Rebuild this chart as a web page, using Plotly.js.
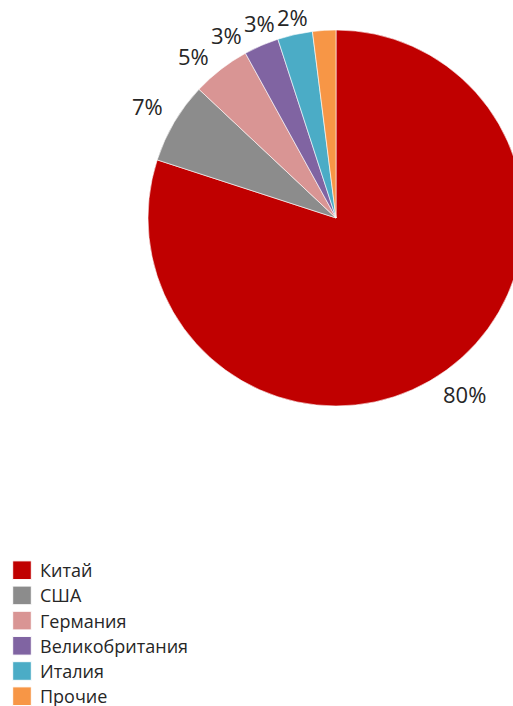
<!DOCTYPE html>
<html>
<head>
<meta charset="utf-8">
<script src="https://cdn.plot.ly/plotly-3.0.1.min.js"></script>
<style>
html,body{margin:0;padding:0;overflow:hidden;background:#fff;}
#chart{width:560px;height:706px;}
</style>
</head>
<body>
<div id="chart"></div>
<script>
// ---- data ----
var countries = ["Китай", "США", "Германия", "Великобритания", "Италия", "Прочие"];
var shares = [80, 7, 5, 3, 3, 2];
var colors = ["#C00000", "#8C8C8C", "#D99594", "#8064A2", "#4BACC6", "#F79646"];

// ---- geometry / style ----
var W = 560, H = 706;
var PIE_CX = 336, PIE_CY = 218, PIE_R = 188;
var LABEL_FONT = 22, LABEL_FAMILY = "Open Sans";
var LABEL_GAP = 4, LABEL_PADX = 11.7, LABEL_HALF_H = 8;
var MIN_CENTER_Y = 17, COLL_PAD = 2, COLL_H = 26;

var trace = {
  type: "pie",
  labels: countries,
  values: shares,
  sort: false,
  direction: "clockwise",
  rotation: 0,
  marker: {colors: colors, line: {color: "#ffffff", width: 0.6}},
  textinfo: "none",
  hoverinfo: "label+percent",
  domain: {x: [(PIE_CX - PIE_R) / W, (PIE_CX + PIE_R) / W],
           y: [(H - PIE_CY - PIE_R) / H, (H - PIE_CY + PIE_R) / H]}
};

// ---- outside labels placed from slice angles, with simple collision avoidance ----
var ctx = document.createElement("canvas").getContext("2d");
ctx.font = LABEL_FONT + "px '" + LABEL_FAMILY + "'";
var total = shares.reduce(function (a, b) { return a + b; }, 0);
var texts = shares.map(function (v) { return v + "%"; });
var mids = [], cum = 0;
shares.forEach(function (v) { mids.push((cum + v / 2) / total * 360); cum += v; });

function place(i, theta) {
  var w = ctx.measureText(texts[i]).width;
  var r = theta * Math.PI / 180, s = Math.sin(r), c = Math.cos(r);
  var d = PIE_R + LABEL_GAP + Math.abs(s) * (w / 2 + LABEL_PADX) + Math.abs(c) * LABEL_HALF_H;
  var x = PIE_CX + s * d, y = PIE_CY - c * d;
  var cw = w + COLL_PAD;
  return {x: x, y: y, x0: x - cw / 2, x1: x + cw / 2, y0: y - COLL_H / 2, y1: y + COLL_H / 2};
}
function overlaps(a, b) {
  return a.x0 < b.x1 && b.x0 < a.x1 && a.y0 < b.y1 && b.y0 < a.y1;
}
var placed = new Array(shares.length);
for (var i = shares.length - 1; i >= 0; i--) {
  var th = mids[i], box = place(i, th), guard = 0;
  while (guard++ < 400) {
    var bad = box.y < MIN_CENTER_Y;
    for (var j = i + 1; j < shares.length && !bad; j++) if (overlaps(box, placed[j])) bad = true;
    if (!bad) break;
    th -= 0.25; box = place(i, th);
  }
  placed[i] = box;
}
var annotations = placed.map(function (b, i) {
  return {
    xref: "paper", yref: "paper", x: b.x / W, y: (H - b.y) / H,
    xanchor: "center", yanchor: "middle", showarrow: false,
    text: texts[i],
    font: {family: LABEL_FAMILY + ", sans-serif", size: LABEL_FONT, color: "#262626"}
  };
});

var layout = {
  width: W,
  height: H,
  margin: {l: 0, r: 0, t: 0, b: 0, autoexpand: false},
  paper_bgcolor: "#ffffff",
  showlegend: true,
  annotations: annotations,
  legend: {
    x: 0, xanchor: "left",
    y: (H - 552) / H, yanchor: "top",
    font: {family: "Open Sans, sans-serif", size: 18, color: "#262626"},
    itemclick: false
  }
};

Plotly.newPlot("chart", [trace], layout, {staticPlot: true}).then(function () {
  var items = document.querySelectorAll(".legend .traces");
  var y0 = null;
  items.forEach(function (g, k) {
    var m = /translate\(([-\d.]+),\s*([-\d.]+)\)/.exec(g.getAttribute("transform") || "");
    if (!m) return;
    if (y0 === null) y0 = parseFloat(m[2]);
    g.setAttribute("transform", "translate(" + m[1] + "," + (y0 + k * 25.2) + ")");
  });
  document.querySelectorAll(".legend path.legendpie").forEach(function (p) {
    p.setAttribute("transform", "translate(22,0) scale(1.55)");
  });
});
</script>
</body>
</html>
